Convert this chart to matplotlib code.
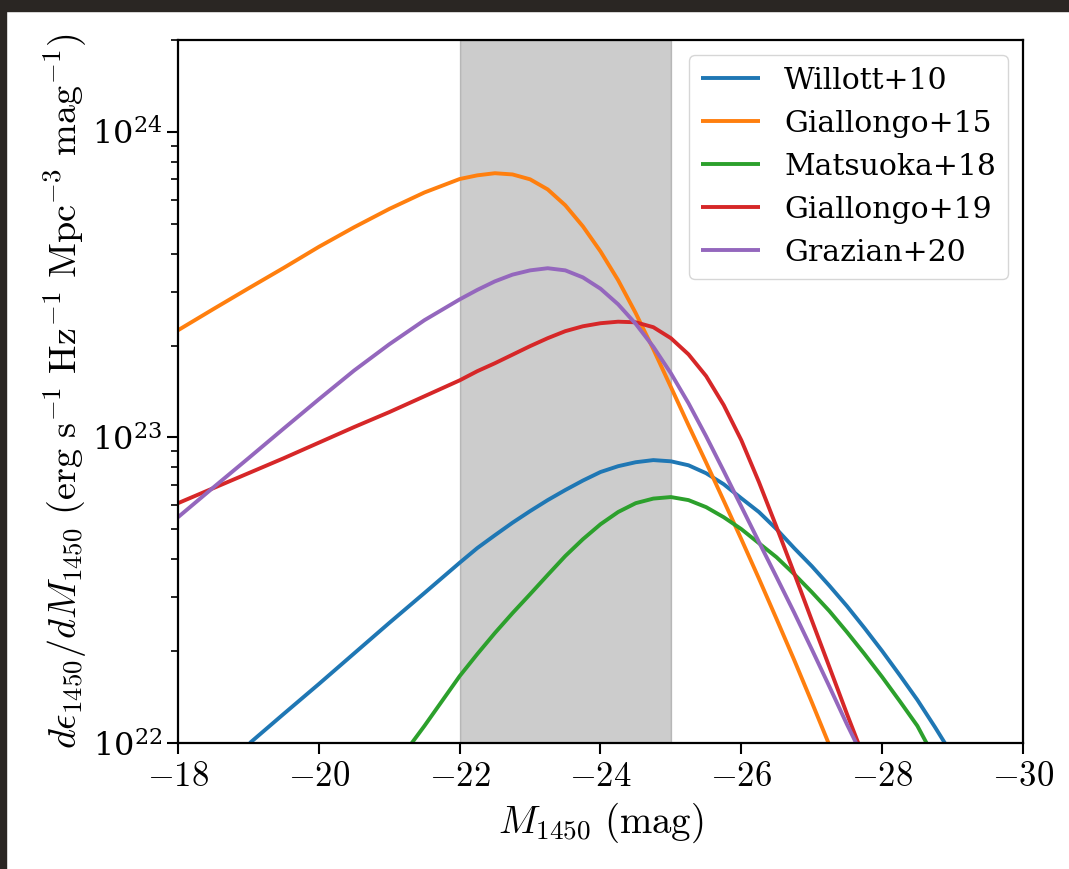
import numpy as np
import matplotlib
matplotlib.use('Agg')
import matplotlib.pyplot as plt
from matplotlib.patches import Rectangle

plt.rcParams['font.family'] = 'serif'
plt.rcParams['mathtext.fontset'] = 'cm'
plt.rcParams['axes.formatter.use_mathtext'] = True

# curves: magnitude and log10 of dE/dM
labels = ['Willott+10', 'Giallongo+15', 'Matsuoka+18', 'Giallongo+19', 'Grazian+20']
colors = ['tab:blue', 'tab:orange', 'tab:green', 'tab:red', 'tab:purple']

m_willott = [-19.02, -19.5, -20.0, -20.5, -21.0, -21.5, -22.0, -22.25, -22.5, -22.75,
             -23.0, -23.25, -23.5, -23.75, -24.0, -24.25, -24.5, -24.75, -25.0, -25.25,
             -25.5, -25.75, -26.0, -26.25, -26.5, -26.75, -27.0, -27.25, -27.5, -27.75,
             -28.0, -28.25, -28.5, -28.75, -28.89]
lg_willott = [22.000, 22.095, 22.193, 22.293, 22.393, 22.491, 22.590, 22.638, 22.680, 22.721,
              22.759, 22.795, 22.828, 22.859, 22.887, 22.906, 22.919, 22.926, 22.922, 22.909,
              22.883, 22.847, 22.801, 22.756, 22.700, 22.638, 22.579, 22.515, 22.448, 22.376,
              22.301, 22.222, 22.141, 22.052, 22.000]

m_gia15 = [-18.0, -18.5, -19.0, -19.5, -20.0, -20.5, -21.0, -21.5, -22.0, -22.25,
           -22.5, -22.75, -23.0, -23.25, -23.5, -23.75, -24.0, -24.25, -24.5, -24.75,
           -25.0, -25.25, -25.5, -25.75, -26.0, -26.25, -26.5, -26.75, -27.0, -27.25]
lg_gia15 = [23.351, 23.420, 23.488, 23.555, 23.624, 23.688, 23.748, 23.802, 23.846, 23.858,
            23.865, 23.861, 23.845, 23.812, 23.760, 23.691, 23.609, 23.515, 23.407, 23.289,
            23.165, 23.040, 22.918, 22.793, 22.667, 22.538, 22.406, 22.272, 22.134, 21.993]

m_mat18 = [-21.32, -21.5, -22.0, -22.25, -22.5, -22.75, -23.0, -23.25, -23.5, -23.75,
           -24.0, -24.25, -24.5, -24.75, -25.0, -25.25, -25.5, -25.75, -26.0, -26.25,
           -26.5, -26.75, -27.0, -27.25, -27.5, -27.75, -28.0, -28.25, -28.5, -28.63]
lg_mat18 = [22.000, 22.056, 22.219, 22.291, 22.360, 22.425, 22.487, 22.550, 22.612, 22.667,
            22.716, 22.756, 22.785, 22.800, 22.805, 22.795, 22.772, 22.739, 22.700, 22.654,
            22.608, 22.553, 22.494, 22.432, 22.363, 22.291, 22.216, 22.137, 22.056, 22.000]

m_gia19 = [-18.0, -18.5, -19.0, -19.5, -20.0, -20.5, -21.0, -21.5, -22.0, -22.25,
           -22.5, -22.75, -23.0, -23.25, -23.5, -23.75, -24.0, -24.25, -24.5, -24.75,
           -25.0, -25.25, -25.5, -25.75, -26.0, -26.25, -26.5, -26.75, -27.0, -27.25,
           -27.5, -27.66]
lg_gia19 = [22.785, 22.834, 22.883, 22.932, 22.983, 23.034, 23.083, 23.135, 23.187, 23.217,
            23.243, 23.271, 23.299, 23.325, 23.348, 23.364, 23.374, 23.379, 23.377, 23.361,
            23.325, 23.272, 23.201, 23.106, 22.991, 22.854, 22.707, 22.556, 22.402, 22.249,
            22.095, 22.000]

m_gra20 = [-18.0, -18.5, -19.0, -19.5, -20.0, -20.5, -21.0, -21.5, -22.0, -22.25,
           -22.5, -22.75, -23.0, -23.25, -23.5, -23.75, -24.0, -24.25, -24.5, -24.75,
           -25.0, -25.25, -25.5, -25.75, -26.0, -26.25, -26.5, -26.75, -27.0, -27.25,
           -27.5, -27.63]
lg_gra20 = [22.739, 22.836, 22.932, 23.029, 23.125, 23.219, 23.305, 23.384, 23.452, 23.483,
            23.511, 23.533, 23.547, 23.554, 23.547, 23.524, 23.487, 23.436, 23.372, 23.297,
            23.210, 23.112, 23.004, 22.890, 22.774, 22.658, 22.543, 22.427, 22.307, 22.185,
            22.061, 22.000]

mags = [m_willott, m_gia15, m_mat18, m_gia19, m_gra20]
lgs = [lg_willott, lg_gia15, lg_mat18, lg_gia19, lg_gra20]

shade = (-22, -25)
xticks = [-18, -20, -22, -24, -26, -28, -30]

fig = plt.figure(figsize=(10.69, 8.69), dpi=100)
ax = fig.add_axes([178 / 1069, 1 - 743 / 869, 845 / 1069, 703 / 869])

# dark screenshot border along the top and left
fig.patches.append(Rectangle((0, 1 - 11 / 869), 1, 11 / 869, transform=fig.transFigure,
                             color='#2a2623', zorder=10))
fig.patches.append(Rectangle((0, 0), 6 / 1069, 1, transform=fig.transFigure,
                             color='#2a2623', zorder=10))

ax.axvspan(*shade, color='k', alpha=0.2)

for m, lg, lab, c in zip(mags, lgs, labels, colors):
    ax.plot(m, 10 ** np.array(lg), color=c, lw=2.8, label=lab,
            solid_joinstyle='round', solid_capstyle='butt')

ax.set_yscale('log')
ax.set_xlim(-18, -30)
ax.set_ylim(1e22, 2e24)
ax.set_xticks(xticks)

ax.set_xlabel(r'$M_{1450}\ \mathrm{(mag)}$', fontsize=28, labelpad=6)
ax.set_ylabel(r'$d\epsilon_{1450}/dM_{1450}\ \mathrm{(erg\ s^{-1}\ Hz^{-1}\ Mpc^{-3}\ mag^{-1})}$',
              fontsize=27.5, labelpad=2)
ax.tick_params(length=8, width=1.5)
ax.tick_params(axis='x', labelsize=25, labelfontfamily='cmr10', pad=5)
ax.tick_params(axis='y', labelsize=23)
ax.tick_params(which='minor', length=5, width=1.2)
for s in ax.spines.values():
    s.set_linewidth(1.6)

ax.legend(loc='upper right', fontsize=21.5, borderaxespad=0.5)

fig.savefig('out.png', dpi=100, facecolor='white')
